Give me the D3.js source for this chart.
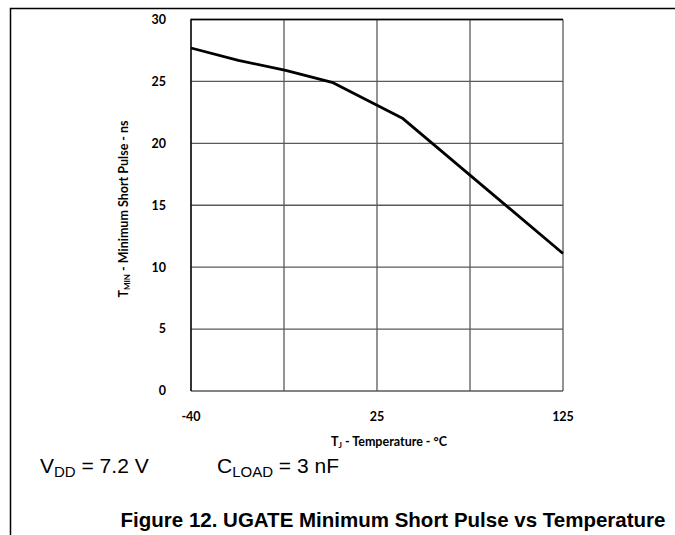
<!DOCTYPE html>
<html>
<head>
<meta charset="utf-8">
<script src="https://cdn.jsdelivr.net/npm/d3@7"></script>
<style>
  body { margin: 0; background: #fff; }
  svg { display: block; }
  .tick-lbl { font-family: Lato, "Open Sans", sans-serif; font-weight: bold; font-size: 12.5px; fill: #000; }
  .axis-title { font-family: Lato, "Open Sans", sans-serif; font-weight: bold; font-size: 12.5px; fill: #000; }
  .cond { font-family: "Liberation Sans", Arial, sans-serif; font-size: 21px; fill: #000; }
  .caption { font-family: "Liberation Sans", Arial, sans-serif; font-weight: bold; font-size: 20.5px; fill: #000; }
</style>
</head>
<body>
<script>
//chart data
var temps = [-40, -19, 2, 23, 54, 125];          //T_J, degC
var pulse = [27.7, 26.7, 25.9, 24.9, 22.0, 11.1]; //T_MIN, ns
var xTickLabels = ["-40", "", "25", "", "125"];  //labels on the vertical gridlines
var yTicks = [0, 5, 10, 15, 20, 25, 30];

(function(){
  var width = 675, height = 535;
  var plot = {left: 191, top: 19.5, right: 563, bottom: 391};

  var svg = d3.select("body").append("svg")
      .attr("width", width)
      .attr("height", height);

  //outer figure frame (top and left edges)
  svg.append("path")
      .attr("d", "M10.5,535 L10.5,8.5 L675,8.5")
      .attr("fill", "none")
      .attr("stroke", "#000")
      .attr("stroke-width", 1.5);

  var x = d3.scaleLinear().domain([-40, 125]).range([plot.left, plot.right]);
  var y = d3.scaleLinear().domain([0, 30]).range([plot.bottom, plot.top]);

  //vertical gridlines at evenly spaced positions
  var xGrid = d3.range(xTickLabels.length).map(function(i){
    return -40 + i * (165 / (xTickLabels.length - 1));
  });

  var grid = svg.append("g").attr("class", "grid");
  grid.selectAll(".vgrid")
      .data(xGrid)
      .enter().append("line")
      .attr("x1", function(d){ return x(d); })
      .attr("x2", function(d){ return x(d); })
      .attr("y1", plot.top)
      .attr("y2", plot.bottom)
      .attr("stroke", "#5a5a5a")
      .attr("stroke-width", 1.3);
  grid.selectAll(".hgrid")
      .data(yTicks)
      .enter().append("line")
      .attr("x1", plot.left)
      .attr("x2", plot.right)
      .attr("y1", function(d){ return y(d); })
      .attr("y2", function(d){ return y(d); })
      .attr("stroke", "#5a5a5a")
      .attr("stroke-width", 1.3);

  //left and top of plot frame a bit darker
  svg.append("path")
      .attr("d", "M" + plot.left + "," + plot.bottom + "L" + plot.left + "," + plot.top + "L" + plot.right + "," + plot.top)
      .attr("fill", "none")
      .attr("stroke", "#000")
      .attr("stroke-width", 1.3);

  //y tick labels
  svg.selectAll(".ylbl")
      .data(yTicks)
      .enter().append("text")
      .attr("class", "tick-lbl")
      .attr("x", 166)
      .attr("y", function(d){ return y(d); })
      .attr("dy", "0.35em")
      .attr("text-anchor", "end")
      .text(function(d){ return d; });

  //x tick labels
  svg.selectAll(".xlbl")
      .data(xGrid)
      .enter().append("text")
      .attr("class", "tick-lbl")
      .attr("x", function(d){ return x(d); })
      .attr("y", 417)
      .attr("dy", "0.35em")
      .attr("text-anchor", "middle")
      .text(function(d, i){ return xTickLabels[i]; });

  //x axis title
  var xt = svg.append("text")
      .attr("class", "axis-title")
      .attr("x", 389)
      .attr("y", 442)
      .attr("dy", "0.35em")
      .attr("text-anchor", "middle");
  xt.append("tspan").text("T");
  xt.append("tspan").attr("font-size", "8px").attr("dy", "2").text("J");
  xt.append("tspan").attr("dy", "-2").text(" - Temperature - °C");

  //y axis title
  var yt = svg.append("text")
      .attr("class", "axis-title")
      .attr("transform", "translate(124,209) rotate(-90)")
      .attr("dy", "0.35em")
      .attr("text-anchor", "middle");
  yt.append("tspan").text("T");
  yt.append("tspan").attr("font-size", "8px").attr("dy", "2").text("MIN");
  yt.append("tspan").attr("dy", "-2").text(" - Minimum Short Pulse - ns");

  //data line
  var line = d3.line()
      .x(function(d){ return x(d[0]); })
      .y(function(d){ return y(d[1]); });
  svg.append("path")
      .datum(d3.zip(temps, pulse))
      .attr("d", line)
      .attr("fill", "none")
      .attr("stroke", "#000")
      .attr("stroke-width", 2.8)
      .attr("stroke-linejoin", "round");

  //test conditions
  var c1 = svg.append("text").attr("class", "cond").attr("x", 40).attr("y", 473);
  c1.append("tspan").text("V");
  c1.append("tspan").attr("font-size", "15px").attr("dy", "4").text("DD");
  c1.append("tspan").attr("dy", "-4").text(" = 7.2 V");

  var c2 = svg.append("text").attr("class", "cond").attr("x", 217).attr("y", 473);
  c2.append("tspan").text("C");
  c2.append("tspan").attr("font-size", "15px").attr("dy", "4").text("LOAD");
  c2.append("tspan").attr("dy", "-4").text(" = 3 nF");

  //figure caption
  svg.append("text")
      .attr("class", "caption")
      .attr("x", 393)
      .attr("y", 527)
      .attr("text-anchor", "middle")
      .text("Figure 12. UGATE Minimum Short Pulse vs Temperature");
})();
</script>
</body>
</html>
